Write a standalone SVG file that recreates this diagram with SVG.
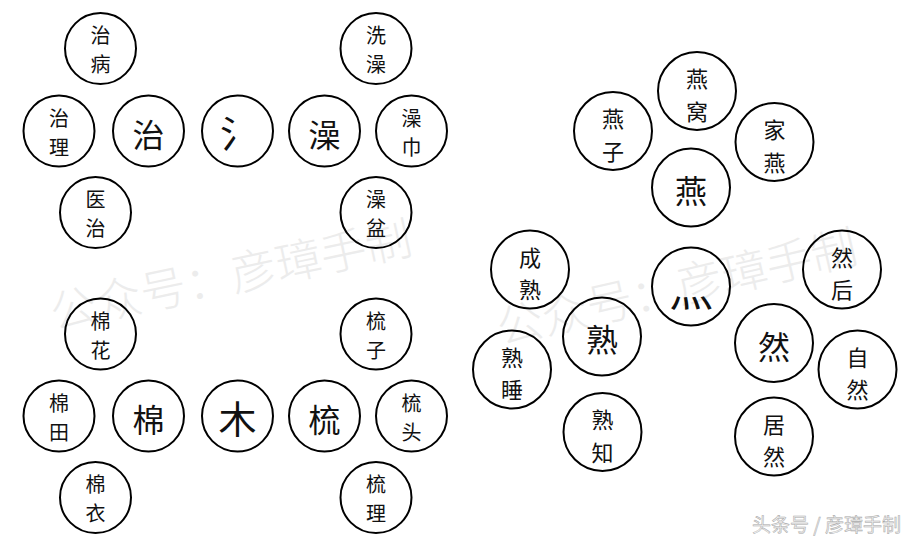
<svg xmlns="http://www.w3.org/2000/svg" width="913" height="545" viewBox="0 0 913 545">
<style>
.c{fill:none;stroke:#000;stroke-width:2}
.t{font-family:"Noto Sans CJK SC","Noto Sans CJK TC",sans-serif;text-anchor:middle;fill:#111}
.s{font-size:20px}
.r{font-size:22px}
.b{font-size:32px}
.wm{font-family:"Noto Sans CJK SC",sans-serif;font-size:46px;font-weight:300;fill:#ececec;text-anchor:middle}
.sig{font-family:"Noto Sans CJK SC",sans-serif;font-size:19px;fill:#efefef;stroke:#a8a8a8;stroke-width:0.5;text-anchor:end}
</style>
<rect width="913" height="545" fill="#fff"/>
<g id="watermarks">
<text class="wm" x="231" y="292" transform="rotate(-12 231 276)">公众号：彦璋手制</text>
<text class="wm" x="677" y="304" transform="rotate(-13 677 288)">公众号：彦璋手制</text>
<text class="sig" x="901" y="532">头条号 / 彦璋手制</text>
</g>
<g id="zhibing"><circle class="c" cx="100.5" cy="48.5" r="35.5"/><text class="t s" x="100.5" y="43.1">治</text><text class="t s" x="100.5" y="72.1">病</text></g>
<g id="zhili"><circle class="c" cx="59" cy="131" r="35.5"/><text class="t s" x="59" y="125.6">治</text><text class="t s" x="59" y="154.6">理</text></g>
<g id="zhi"><circle class="c" cx="148.5" cy="131" r="35.5"/><text class="t b" x="148.5" y="146.7">治</text></g>
<g id="shui"><circle class="c" cx="237.5" cy="131" r="35.5"/><text class="t" style="font-size:38px" x="239" y="147.4">氵</text></g>
<g id="yizhi"><circle class="c" cx="95.5" cy="212.5" r="35.5"/><text class="t s" x="95.5" y="207.1">医</text><text class="t s" x="95.5" y="236.1">治</text></g>
<g id="zao"><circle class="c" cx="324.5" cy="131" r="35.5"/><text class="t b" x="324.5" y="146.7">澡</text></g>
<g id="xizao"><circle class="c" cx="376" cy="48.5" r="35.5"/><text class="t s" x="376" y="43.1">洗</text><text class="t s" x="376" y="72.1">澡</text></g>
<g id="zaojin"><circle class="c" cx="411.5" cy="131" r="35.5"/><text class="t s" x="411.5" y="125.6">澡</text><text class="t s" x="411.5" y="154.6">巾</text></g>
<g id="zaopen"><circle class="c" cx="376" cy="212.5" r="35.5"/><text class="t s" x="376" y="207.1">澡</text><text class="t s" x="376" y="236.1">盆</text></g>
<g id="mianhua"><circle class="c" cx="100.5" cy="334" r="35.5"/><text class="t s" x="100.5" y="328.6">棉</text><text class="t s" x="100.5" y="357.6">花</text></g>
<g id="miantian"><circle class="c" cx="59" cy="416" r="35.5"/><text class="t s" x="59" y="410.6">棉</text><text class="t s" x="59" y="439.6">田</text></g>
<g id="mian"><circle class="c" cx="148.5" cy="416" r="35.5"/><text class="t b" x="148.5" y="431.7">棉</text></g>
<g id="mu"><circle class="c" cx="237.5" cy="416" r="35.5"/><text class="t" style="font-size:38px" x="237.5" y="433.4">木</text></g>
<g id="mianyi"><circle class="c" cx="95.5" cy="497.5" r="35.5"/><text class="t s" x="95.5" y="492.1">棉</text><text class="t s" x="95.5" y="521.1">衣</text></g>
<g id="shuzi"><circle class="c" cx="376" cy="334" r="35.5"/><text class="t s" x="376" y="328.6">梳</text><text class="t s" x="376" y="357.6">子</text></g>
<g id="shu"><circle class="c" cx="324.5" cy="416" r="35.5"/><text class="t b" x="324.5" y="431.7">梳</text></g>
<g id="shutou"><circle class="c" cx="411.5" cy="416" r="35.5"/><text class="t s" x="411.5" y="410.6">梳</text><text class="t s" x="411.5" y="439.6">头</text></g>
<g id="shuli"><circle class="c" cx="376" cy="497.5" r="35.5"/><text class="t s" x="376" y="492.1">梳</text><text class="t s" x="376" y="521.1">理</text></g>
<g id="yanwo"><circle class="c" cx="697" cy="91" r="39"/><text class="t r" x="697" y="87.4">燕</text><text class="t r" x="697" y="119.9">窝</text></g>
<g id="yanzi"><circle class="c" cx="613" cy="131" r="39"/><text class="t r" x="613" y="127.4">燕</text><text class="t r" x="613" y="159.9">子</text></g>
<g id="jiayan"><circle class="c" cx="774.5" cy="142" r="39"/><text class="t r" x="774.5" y="138.4">家</text><text class="t r" x="774.5" y="170.9">燕</text></g>
<g id="yan"><circle class="c" cx="691" cy="187.5" r="39"/><text class="t b" x="691" y="203.2">燕</text></g>
<g id="chengshu"><circle class="c" cx="530" cy="269.5" r="39"/><text class="t r" x="530" y="265.9">成</text><text class="t r" x="530" y="298.4">熟</text></g>
<g id="shou"><circle class="c" cx="602" cy="336.5" r="39"/><text class="t b" x="602" y="352.2">熟</text></g>
<g id="shushui"><circle class="c" cx="512" cy="369.5" r="39"/><text class="t r" x="512" y="365.9">熟</text><text class="t r" x="512" y="398.4">睡</text></g>
<g id="shuzhi"><circle class="c" cx="602.5" cy="432" r="39"/><text class="t r" x="602.5" y="428.4">熟</text><text class="t r" x="602.5" y="460.9">知</text></g>
<g id="huo"><circle class="c" cx="691" cy="286.5" r="39"/><text class="t" style="font-size:44px" x="691" y="307">灬</text></g>
<g id="ranhou"><circle class="c" cx="842" cy="269.5" r="39"/><text class="t r" x="842" y="265.9">然</text><text class="t r" x="842" y="298.4">后</text></g>
<g id="ran"><circle class="c" cx="774" cy="343" r="39"/><text class="t b" x="774" y="358.7">然</text></g>
<g id="ziran"><circle class="c" cx="857.5" cy="369.5" r="39"/><text class="t r" x="857.5" y="365.9">自</text><text class="t r" x="857.5" y="398.4">然</text></g>
<g id="juran"><circle class="c" cx="774" cy="436.5" r="39"/><text class="t r" x="774" y="432.9">居</text><text class="t r" x="774" y="465.4">然</text></g>
</svg>
